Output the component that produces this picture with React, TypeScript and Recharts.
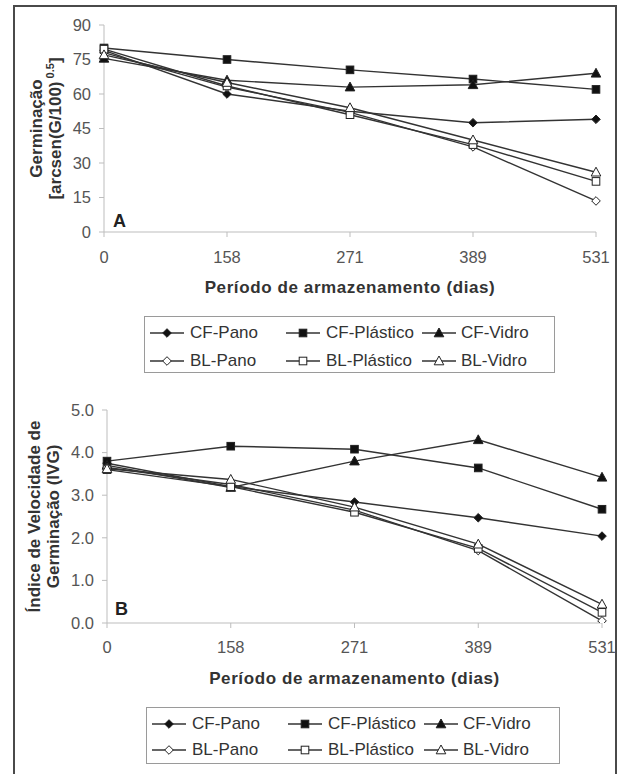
import React from 'react';
import { LineChart, Line, XAxis, YAxis, Label } from 'recharts';

// ---- data ----
const days = ['0', '158', '271', '389', '531'];

const germCFPano = [79, 60, 52.5, 47.5, 49];
const germCFPlastico = [80, 75, 70.5, 66.5, 62];
const germCFVidro = [75.5, 66, 63, 64, 69];
const germBLPano = [78, 63, 52, 37, 13.5];
const germBLPlastico = [79.5, 63.5, 51, 38, 22];
const germBLVidro = [77, 65, 54, 40, 26];

const ivgCFPano = [3.75, 3.2, 2.84, 2.47, 2.04];
const ivgCFPlastico = [3.8, 4.15, 4.08, 3.64, 2.67];
const ivgCFVidro = [3.7, 3.18, 3.8, 4.3, 3.42];
const ivgBLPano = [3.65, 3.25, 2.65, 1.7, 0.05];
const ivgBLPlastico = [3.6, 3.2, 2.6, 1.75, 0.25];
const ivgBLVidro = [3.62, 3.37, 2.72, 1.85, 0.44];

const germTicks = [0, 15, 30, 45, 60, 75, 90];
const ivgTicks = [0, 1, 2, 3, 4, 5];

const seriesDefs = [
  { key: 'cfPano', name: 'CF-Pano', shape: 'diamond', filled: true },
  { key: 'cfPlastico', name: 'CF-Plástico', shape: 'square', filled: true },
  { key: 'cfVidro', name: 'CF-Vidro', shape: 'triangle', filled: true },
  { key: 'blPano', name: 'BL-Pano', shape: 'diamond', filled: false },
  { key: 'blPlastico', name: 'BL-Plástico', shape: 'square', filled: false },
  { key: 'blVidro', name: 'BL-Vidro', shape: 'triangle', filled: false },
];

const germData = days.map((d, i) => ({
  day: d,
  cfPano: germCFPano[i],
  cfPlastico: germCFPlastico[i],
  cfVidro: germCFVidro[i],
  blPano: germBLPano[i],
  blPlastico: germBLPlastico[i],
  blVidro: germBLVidro[i],
}));

const ivgData = days.map((d, i) => ({
  day: d,
  cfPano: ivgCFPano[i],
  cfPlastico: ivgCFPlastico[i],
  cfVidro: ivgCFVidro[i],
  blPano: ivgBLPano[i],
  blPlastico: ivgBLPlastico[i],
  blVidro: ivgBLVidro[i],
}));

const FONT = '"Liberation Sans", Arial, Helvetica, sans-serif';
const LINE = '#333';
const AXIS = '#bdbdbd';
const TICK = '#555';
const TICK_FS = 16.5;
const TITLE_FS = 17;

function Marker({ cx, cy, shape, filled }: any) {
  if (cx == null || cy == null) return null;
  const fill = filled ? '#111' : '#fff';
  const stroke = '#222';
  if (shape === 'diamond') {
    const s = 4.3;
    return (
      <polygon
        points={`${cx},${cy - s} ${cx + s},${cy} ${cx},${cy + s} ${cx - s},${cy}`}
        fill={fill}
        stroke={stroke}
        strokeWidth={1}
      />
    );
  }
  if (shape === 'square') {
    const s = 3.8;
    return <rect x={cx - s} y={cy - s} width={2 * s} height={2 * s} fill={fill} stroke={stroke} strokeWidth={1} />;
  }
  return (
    <polygon
      points={`${cx},${cy - 5} ${cx + 4.8},${cy + 3.8} ${cx - 4.8},${cy + 3.8}`}
      fill={fill}
      stroke={stroke}
      strokeWidth={1}
    />
  );
}

function LegendBox({ left, top, width, height, rowGap }: any) {
  const colSym = [6, 142, 278];
  const colText = [45, 181, 316];
  const rows = [16, 16 + rowGap];
  return (
    <div
      style={{
        position: 'absolute',
        left,
        top,
        width,
        height,
        border: '1px solid #9a9a9a',
        boxSizing: 'border-box',
        fontFamily: FONT,
        fontSize: 17,
        color: '#333',
      }}
    >
      {seriesDefs.map((s, i) => {
        const r = Math.floor(i / 3);
        const c = i % 3;
        return (
          <div key={s.key}>
            <svg
              width={36}
              height={12}
              style={{ position: 'absolute', left: colSym[c] - 1, top: rows[r] - 6 }}
            >
              <line x1={0} y1={6} x2={34} y2={6} stroke={LINE} strokeWidth={1.3} />
              <Marker cx={17} cy={6} shape={s.shape} filled={s.filled} />
            </svg>
            <span
              style={{
                position: 'absolute',
                left: colText[c],
                top: rows[r] - 10,
                lineHeight: '20px',
                whiteSpace: 'nowrap',
              }}
            >
              {s.name}
            </span>
          </div>
        );
      })}
    </div>
  );
}

function Panel({
  data,
  top,
  height,
  marginTop,
  plotBottom,
  plotLeft,
  plotRight,
  yDomain,
  yTicks,
  fmt,
  titleLines,
  superscript,
  titleX,
  letter,
  letterPos,
  xTitleY,
  tickMarginX,
}: any) {
  const yW = 60;
  const xH = 40;
  const plotCenterY = (marginTop + plotBottom) / 2;
  const renderYTitle = () => (
    <g fontFamily={FONT} fontWeight="bold" fontSize={TITLE_FS} fill="#333">
      <text transform={`translate(${titleX[0]},${plotCenterY}) rotate(-90)`} textAnchor="middle" dy="0.35em">
        {titleLines[0]}
      </text>
      <text transform={`translate(${titleX[1]},${plotCenterY}) rotate(-90)`} textAnchor="middle" dy="0.35em">
        {superscript ? (
          <>
            {titleLines[1]}
            <tspan dy={-7} fontSize={11}>
              {' '}
              {superscript}
            </tspan>
            <tspan dy={7}>]</tspan>
          </>
        ) : (
          titleLines[1]
        )}
      </text>
      <text x={letterPos[0]} y={letterPos[1]} fontSize={18} fill="#222">
        {letter}
      </text>
    </g>
  );
  const renderXTitle = (props: any) => {
    const vb = props.viewBox || {};
    const cx = (vb.x ?? plotLeft) + (vb.width ?? plotRight - plotLeft) / 2;
    return (
      <text
        x={cx}
        y={xTitleY}
        textAnchor="middle"
        fontFamily={FONT}
        fontWeight="bold"
        fontSize={TITLE_FS}
        letterSpacing={0.6}
        fill="#333"
      >
        Período de armazenamento (dias)
      </text>
    );
  };
  return (
    <div style={{ position: 'absolute', left: 0, top, width: 620, height }}>
      <LineChart
        width={620}
        height={height}
        data={data}
        margin={{ top: marginTop, right: 620 - plotRight, bottom: height - plotBottom - xH, left: plotLeft - yW }}
      >
        <XAxis
          dataKey="day"
          type="category"
          height={xH}
          stroke={AXIS}
          tickLine={{ stroke: AXIS }}
          tickSize={5}
          tickMargin={tickMarginX}
          tick={{ fill: TICK, fontSize: TICK_FS, fontFamily: FONT }}
          interval={0}
        >
          <Label content={renderXTitle} />
        </XAxis>
        <YAxis
          width={yW}
          domain={yDomain}
          ticks={yTicks}
          type="number"
          allowDataOverflow
          stroke={AXIS}
          tickLine={{ stroke: AXIS }}
          tickSize={5}
          tickMargin={8}
          tickFormatter={fmt}
          tick={{ fill: TICK, fontSize: TICK_FS, fontFamily: FONT }}
        >
          <Label content={renderYTitle} />
        </YAxis>
        {seriesDefs.map((s) => (
          <Line
            key={s.key}
            dataKey={s.key}
            name={s.name}
            stroke={LINE}
            strokeWidth={1.4}
            isAnimationActive={false}
            dot={(p: any) => (
              <Marker key={`${s.key}-${p.index}`} cx={p.cx} cy={p.cy} shape={s.shape} filled={s.filled} />
            )}
            activeDot={false}
          />
        ))}
      </LineChart>
    </div>
  );
}

export default function App() {
  return (
    <div style={{ position: 'absolute', left: 0, top: 0, width: 620, height: 774, background: '#fff', overflow: 'hidden' }}>
      <div
        style={{
          position: 'absolute',
          left: 13,
          top: 5,
          width: 604,
          height: 800,
          border: '2px solid #4a4a4a',
          boxSizing: 'border-box',
        }}
      />
      <Panel
        data={germData}
        top={0}
        height={300}
        marginTop={25}
        plotBottom={232}
        plotLeft={104}
        plotRight={596}
        yDomain={[0, 90]}
        yTicks={germTicks}
        fmt={(v: number) => String(v)}
        titleLines={['Germinação', '[arcsen(G/100)']}
        superscript="0.5"
        titleX={[36, 55]}
        letter="A"
        letterPos={[113, 227]}
        xTitleY={293}
        tickMarginX={14}
      />
      <LegendBox left={144} top={316} width={411} height={57} rowGap={28} />
      <Panel
        data={ivgData}
        top={380}
        height={320}
        marginTop={30}
        plotBottom={243}
        plotLeft={107}
        plotRight={602}
        yDomain={[0, 5]}
        yTicks={ivgTicks}
        fmt={(v: number) => v.toFixed(1)}
        titleLines={['Índice de Velocidade de', 'Germinação (IVG)']}
        superscript={null}
        titleX={[34, 53]}
        letter="B"
        letterPos={[115, 235]}
        xTitleY={304}
        tickMarginX={13}
      />
      <LegendBox left={146} top={707} width={414} height={57} rowGap={26} />
    </div>
  );
}
